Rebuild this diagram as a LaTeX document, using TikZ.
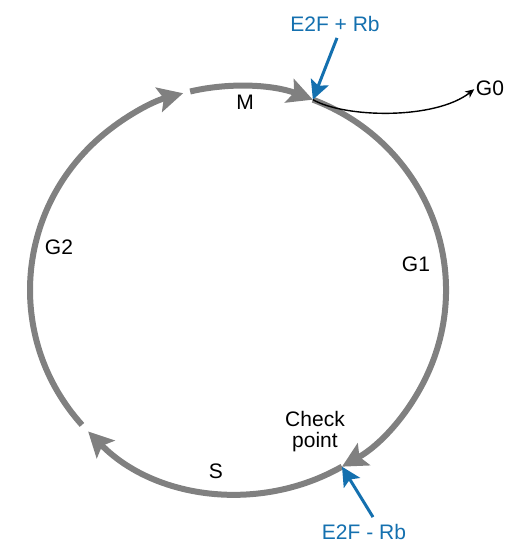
\documentclass[tikz,border=0pt]{standalone}
\usepackage{fontspec}
\setmainfont{Liberation Sans}
\usetikzlibrary{arrows.meta,positioning,calc}
\definecolor{phasegray}{RGB}{128,128,128}
\definecolor{rbblue}{RGB}{20,112,175}

\begin{document}
\begin{tikzpicture}[x=1pt, y=1pt,
  phase/.style={draw=phasegray, line width=6pt, -{Stealth[length=25pt, width=25pt, inset=5pt]}},
  lbl/.style={font=\fontsize{21}{21}\selectfont, inner sep=0pt},
  rb/.style={lbl, text=rbblue},
  rbarrow/.style={draw=rbblue, line width=3pt, -{Stealth[length=19pt, width=19pt, inset=4pt]}}]

\useasboundingbox (0,0) rectangle (513,547);

% cell cycle ring
\coordinate (c) at (238,257);
\coordinate (e1) at ($(c)+(68.9:208pt and 204pt)$);
\coordinate (e2) at ($(c)+(-60:208pt and 204pt)$);
\foreach \a/\b in {221.4/105.3, 103.3/68.9, 68.9/-60, -60/-136.1}{
  \draw[phase] ($(c)+(\a:208pt and 204pt)$) arc[start angle=\a, end angle=\b, x radius=208pt, y radius=204pt];
}

% phase labels
\node[lbl] (m) at (245,445) {M};
\node[lbl] (g1) at (416,283) {G1};
\node[lbl] (g2) at (59,300) {G2};
\node[lbl] (s) at (216,76) {S};
\node[lbl, align=center] (chk) at (315,115) {Check\\point};
\node[lbl] (g0) at (490,459) {G0};

% E2F and Rb
\node[rb] (plus) at (335,523) {E2F + Rb};
\node[rb] (minus) at (364,15) {E2F - Rb};
\draw[rbarrow] ([shift={(2,-6)}]plus.south) -- (e1);
\draw[rbarrow] ([shift={(9,7)}]minus.north) -- (e2);

% exit to G0
\draw[line width=1.4pt, -{Stealth[length=9pt, width=8pt]}, shorten >=2pt] (e1) .. controls (345,429) and (435,427) .. (g0.west);

\end{tikzpicture}
\end{document}
